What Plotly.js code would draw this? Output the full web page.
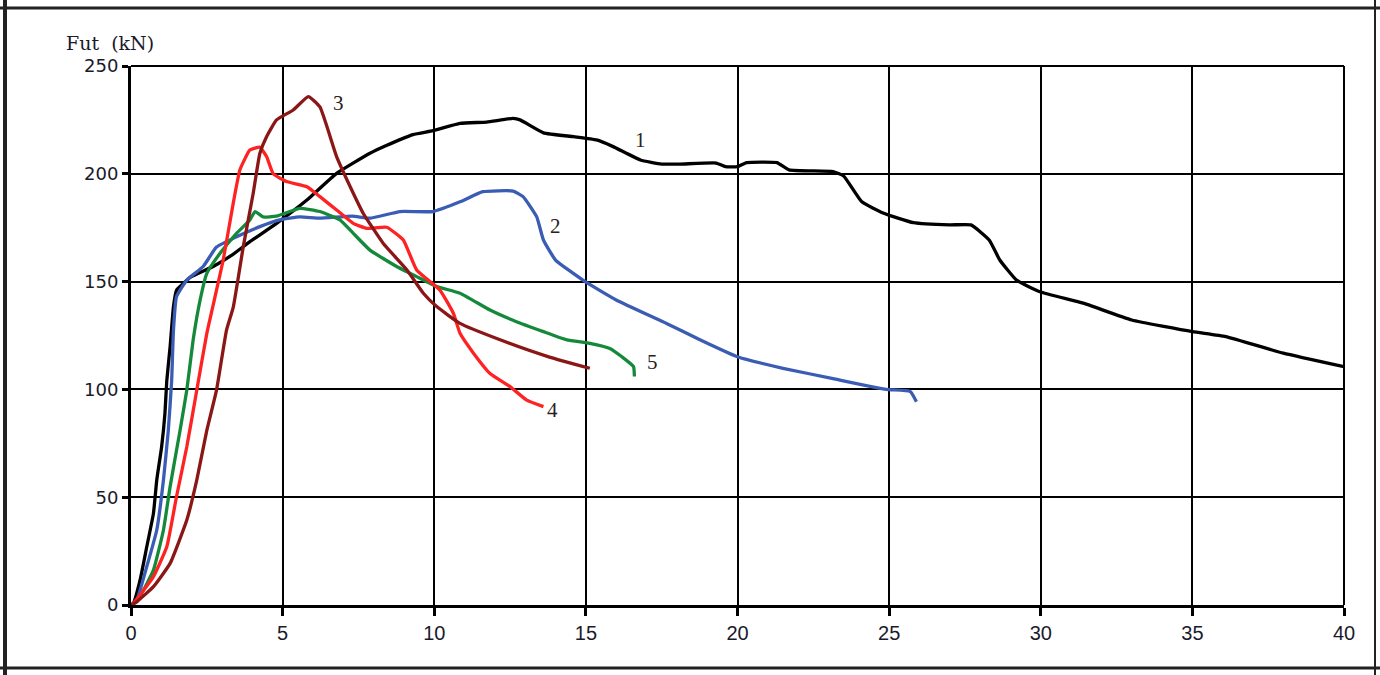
<!DOCTYPE html>
<html>
<head>
<meta charset="utf-8">
<script src="https://cdn.plot.ly/plotly-3.0.1.min.js"></script>
<style>
html,body{margin:0;padding:0;background:#fff;}
#chart{width:1380px;height:675px;}
</style>
</head>
<body>
<div id="chart"></div>
<script>
// Displacement (mm) and force Fut (kN) for the five specimens
const x1 = [0, 0.08, 0.3, 0.52, 0.74, 0.85, 1.01, 1.12, 1.18, 1.29, 1.4, 1.5, 1.72, 1.95, 2.71, 3.3, 3.92, 4.8, 5.8, 6.78, 7.88, 8.4, 9.3, 9.96, 10.85, 11.73, 12.6, 12.83, 13.6, 14.6, 15.35, 15.9, 16.8, 17.5, 18.1, 19.3, 19.6, 20.0, 20.3, 21.3, 21.7, 23.15, 23.5, 24.1, 24.8, 25.8, 27.0, 27.7, 28.3, 28.65, 29.2, 29.97, 31.4, 33.0, 35.0, 36.1, 38.0, 40.0];
const y1 = [0, 0.8, 11.6, 27, 42.5, 58, 73.4, 89, 104, 119.8, 138.4, 146, 149, 152, 157, 162, 168.5, 177, 187.8, 200.2, 209.5, 213, 218.2, 220, 223.4, 224, 225.7, 225, 219, 217.2, 215.7, 212.6, 206.4, 204.5, 204.5, 205, 203.3, 203.3, 205.2, 205.2, 201.8, 201, 199, 187, 181.8, 177.3, 176.3, 176.3, 169.3, 160, 150.7, 145.3, 140, 132.2, 126.8, 124.5, 116.8, 110.5];

const x2 = [0, 0.19, 0.52, 0.85, 1.07, 1.23, 1.34, 1.4, 1.5, 1.84, 2.38, 2.82, 3.48, 4.25, 4.9, 5.57, 6.23, 7.3, 7.88, 8.87, 9.96, 10.85, 11.6, 12.6, 12.93, 13.38, 13.6, 14.0, 14.9, 16.0, 17.66, 18.76, 20.02, 21.5, 23.15, 24.9, 25.7, 25.9];
const y2 = [0, 2.3, 17.8, 34.8, 58, 81, 104, 127.5, 143, 150.7, 157, 166, 170.8, 175.5, 178.6, 180, 179.4, 180.4, 179.4, 182.5, 182.5, 187, 191.7, 192, 189.4, 180, 169.3, 160, 150.7, 141.5, 130.6, 123, 115, 109.8, 105, 100, 99, 94.3];

const x3 = [0, 0.19, 0.74, 1.29, 1.84, 2.17, 2.5, 2.82, 3.15, 3.37, 3.7, 4.03, 4.25, 4.47, 4.8, 5.35, 5.85, 6.23, 6.78, 7.33, 7.66, 8.32, 9.1, 9.64, 10.08, 10.85, 12.17, 13.8, 15.13];
const y3 = [0, 1.5, 8.5, 19.3, 39.4, 58, 81, 99.7, 127.5, 138, 166, 191, 209.5, 217.2, 225, 229.6, 235.8, 231, 208, 191, 181.6, 167.7, 155.4, 144.6, 138.4, 130.6, 123, 115, 109.8];

const x4 = [0, 0.08, 0.74, 1.18, 1.5, 1.84, 2.17, 2.5, 2.82, 3.04, 3.37, 3.59, 3.92, 4.25, 4.47, 4.69, 5.13, 5.8, 6.23, 6.78, 7.33, 7.77, 8.43, 8.98, 9.42, 10.19, 10.63, 10.85, 11.3, 11.84, 12.5, 13.05, 13.6];
const y4 = [0, 0.8, 13.2, 27, 50.2, 73.4, 99.7, 126, 146, 160, 186.3, 201.8, 211, 212.3, 208, 200, 196.4, 194, 189.4, 183.2, 177, 174.7, 175.2, 169.3, 155.4, 146, 135.3, 126, 116.7, 107.4, 101.3, 95, 92];

const x5 = [0, 0.19, 0.74, 1.07, 1.29, 1.62, 1.84, 2.05, 2.28, 2.5, 2.93, 3.48, 3.92, 4.09, 4.36, 4.8, 5.57, 6.23, 6.89, 7.33, 7.88, 8.76, 9.42, 10.08, 10.85, 11.84, 12.71, 13.6, 14.37, 15.13, 15.79, 16.2, 16.57, 16.6];
const y5 = [0, 1.5, 16.2, 34.8, 54.9, 81.2, 99.7, 123, 141.5, 153.8, 163, 172.4, 178.6, 182.5, 180, 180.4, 184, 182.5, 178.6, 172.4, 164.6, 157, 152.3, 147.7, 144.6, 136.8, 131.4, 126.8, 123, 121.4, 119, 115, 110.6, 106];

const curveNames = ['1', '2', '3', '4', '5'];
const labelX = [16.8, 14.0, 6.83, 13.9, 17.2];
const labelY = [215.7, 176, 233, 90.4, 112.7];
const xTicks = [0, 5, 10, 15, 20, 25, 30, 35, 40];
const yTicks = [0, 50, 100, 150, 200, 250];
const yTitle = 'Fut  (kN)';

const xs = [x1, x2, x3, x4, x5];
const ys = [y1, y2, y3, y4, y5];
const colors = ['#000000', '#3b5cb5', '#8a1616', '#ff2222', '#15893a'];
// draw order: back to front
const order = [0, 1, 4, 3, 2];

const traces = order.map(i => ({
  type: 'scatter', mode: 'lines', x: xs[i], y: ys[i], name: curveNames[i],
  line: {color: colors[i], width: 3.3, shape: 'spline', smoothing: 0.4}, hoverinfo: 'skip'
}));

const annotations = curveNames.map((n, i) => ({
  x: labelX[i], y: labelY[i], xref: 'x', yref: 'y', text: n, showarrow: false,
  xanchor: 'center', yanchor: 'middle',
  font: {family: 'Liberation Serif, Times New Roman, serif', size: 21, color: '#2a2020'}
}));
annotations.push({
  xref: 'paper', yref: 'paper', x: (64 - 131) / 1213, y: (605 - 43) / 539,
  xanchor: 'left', yanchor: 'middle',
  text: yTitle, showarrow: false,
  font: {family: 'DejaVu Serif, serif', size: 19, color: '#1a1a2a'}
});

const px = p => (p - 131) / 1213;
const py = q => (605 - q) / 539;
const shapes = [
  // plot top and right borders
  {type: 'line', xref: 'paper', yref: 'paper', x0: 0, x1: 1, y0: 1, y1: 1, line: {color: '#000', width: 2}},
  {type: 'line', xref: 'paper', yref: 'paper', x0: 1, x1: 1, y0: 0, y1: 1, line: {color: '#000', width: 2}},
  // outer page frame
  {type: 'line', xref: 'paper', yref: 'paper', x0: px(0), x1: px(1380), y0: py(8), y1: py(8), line: {color: '#222', width: 3}},
  {type: 'line', xref: 'paper', yref: 'paper', x0: px(0), x1: px(1380), y0: py(668), y1: py(668), line: {color: '#222', width: 3}},
  {type: 'line', xref: 'paper', yref: 'paper', x0: px(5), x1: px(5), y0: py(0), y1: py(675), line: {color: '#222', width: 4}},
  {type: 'line', xref: 'paper', yref: 'paper', x0: px(1375), x1: px(1375), y0: py(0), y1: py(675), line: {color: '#222', width: 2}}
];

const layout = {
  width: 1380, height: 675,
  margin: {l: 131, r: 36, t: 66, b: 70},
  paper_bgcolor: '#fff', plot_bgcolor: '#fff',
  showlegend: false,
  xaxis: {
    range: [0, 40], tickvals: xTicks, ticktext: xTicks.map(String),
    showgrid: true, gridcolor: '#000', gridwidth: 2,
    zeroline: false, showline: true, linecolor: '#000', linewidth: 3,
    ticks: 'outside', ticklen: 8, tickwidth: 3, tickcolor: '#000',
    tickfont: {family: 'Liberation Sans Narrow, Liberation Sans, Arial, sans-serif', size: 20, color: '#1a1a2a'}
  },
  yaxis: {
    range: [0, 250], tickvals: yTicks, ticktext: yTicks.map(String),
    showgrid: true, gridcolor: '#000', gridwidth: 2,
    zeroline: false, showline: true, linecolor: '#000', linewidth: 3,
    ticks: 'outside', ticklen: 6, tickwidth: 3, tickcolor: '#000',
    tickfont: {family: 'DejaVu Sans, Verdana, sans-serif', size: 18, color: '#1a1a2a'}
  },
  annotations: annotations,
  shapes: shapes
};

Plotly.newPlot('chart', traces, layout, {staticPlot: true, displayModeBar: false});
</script>
</body>
</html>
